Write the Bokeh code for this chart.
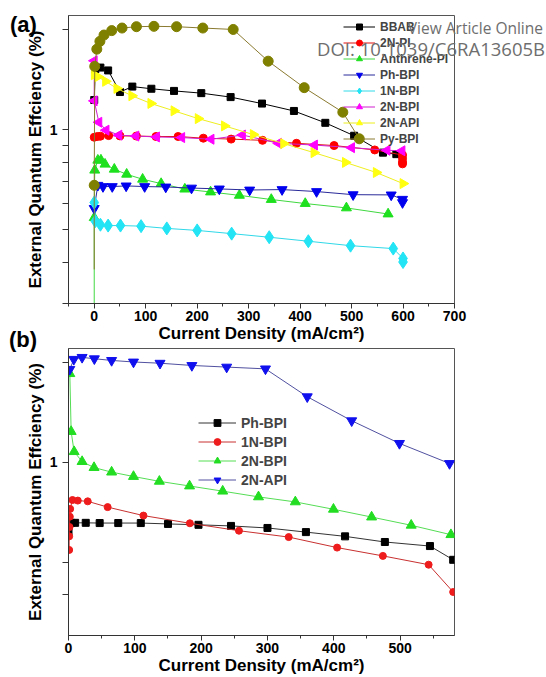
from math import pi
from bokeh.plotting import figure
from bokeh.layouts import column
from bokeh.models import (FixedTicker, SingleIntervalTicker, BasicTickFormatter,
                          Range1d, Div)
from bokeh.embed import file_html
from bokeh.resources import INLINE

FONT = "Liberation Sans"
YTITLE = "External Quantum Effciency (%)"
XTITLE = "Current Density (mA/cm\u00b2)"
PANEL_A = "(a)"
PANEL_B = "(b)"
WATERMARK_1 = "View Article Online"
WATERMARK_2 = "DOI: 10.1039/C6RA13605B"

# ---------------- panel (a) data ----------------
a_bbab_x = [0, 2, 12, 27, 50, 74, 111, 155, 208, 265, 326, 388, 449, 505, 561, 587]
a_bbab_y = [1.23, 1.52, 1.54, 1.51, 1.30, 1.35, 1.33, 1.31, 1.29, 1.255, 1.20, 1.14, 1.05, 0.96, 0.854, 0.845]

a_2npi_x = [0, 6, 12, 28, 50, 82, 120, 163, 212, 266, 327, 393, 466, 545, 599, 599, 599, 599]
a_2npi_y = [0.95, 0.955, 0.957, 0.961, 0.959, 0.958, 0.955, 0.955, 0.944, 0.938, 0.93, 0.911, 0.897, 0.87, 0.84, 0.82, 0.80, 0.79]

a_anth_x = [0, 0, 1, 7, 13, 21, 39, 63, 94, 130, 176, 226, 282, 344, 410, 490, 571]
a_anth_y = [0.28, 0.544, 0.756, 0.81, 0.811, 0.788, 0.761, 0.735, 0.71, 0.689, 0.663, 0.65, 0.635, 0.617, 0.60, 0.582, 0.558]

a_phbpi_x = [0, 7, 17, 35, 62, 98, 139, 189, 243, 302, 365, 432, 503, 577, 599, 599]
a_phbpi_y = [0.58, 0.681, 0.675, 0.675, 0.678, 0.675, 0.673, 0.668, 0.664, 0.659, 0.661, 0.652, 0.638, 0.637, 0.618, 0.604]

a_1nbpi_x = [0, 2, 12, 27, 51, 91, 141, 200, 267, 340, 416, 498, 581, 600, 600]
a_1nbpi_y = [0.604, 0.531, 0.518, 0.515, 0.515, 0.513, 0.505, 0.498, 0.487, 0.475, 0.462, 0.448, 0.439, 0.41, 0.40]

a_2nbpi_x = [0, 0, 9, 23, 48, 81, 121, 170, 227, 288, 358, 428, 500, 569, 598]
a_2nbpi_y = [1.615, 1.223, 1.054, 0.998, 0.964, 0.958, 0.952, 0.948, 0.937, 0.965, 0.911, 0.90, 0.884, 0.868, 0.865]

a_2napi_x = [0, 7, 22, 44, 73, 110, 155, 202, 253, 309, 368, 427, 488, 548, 600]
a_2napi_y = [1.466, 1.446, 1.40, 1.333, 1.267, 1.201, 1.141, 1.081, 1.028, 0.968, 0.909, 0.854, 0.798, 0.744, 0.689]

# first value is the bottom of the vertical trace (drawn as line only)
a_pybpi_x = [0, 0, 1, 5, 11, 19, 34, 54, 82, 116, 160, 211, 270, 338, 408, 483, 515]
a_pybpi_y = [0.38, 0.681, 1.553, 1.75, 1.847, 1.93, 1.99, 2.026, 2.045, 2.05, 2.045, 2.026, 2.006, 1.61, 1.34, 1.13, 0.94]

# ---------------- panel (b) data ----------------
b_phbpi_x = [0, 1, 4, 10, 26, 47, 75, 109, 150, 196, 245, 300, 358, 417, 477, 545, 580]
b_phbpi_y = [0.616, 0.653, 0.657, 0.657, 0.657, 0.656, 0.656, 0.656, 0.652, 0.648, 0.643, 0.634, 0.616, 0.598, 0.575, 0.559, 0.508]

b_1nbpi_x = [1, 1, 1.5, 2, 2.5, 6, 14, 29, 59, 113, 183, 257, 332, 405, 474, 543, 580]
b_1nbpi_y = [0.544, 0.598, 0.638, 0.686, 0.724, 0.77, 0.767, 0.763, 0.733, 0.691, 0.655, 0.622, 0.595, 0.553, 0.522, 0.491, 0.406]

b_2nbpi_x = [2, 4, 8.5, 20.5, 38.5, 65, 98, 137, 182.5, 232.5, 286.5, 342, 399.5, 457, 516.7, 576.6]
b_2nbpi_y = [1.855, 1.24, 1.078, 1.006, 0.965, 0.935, 0.907, 0.877, 0.849, 0.819, 0.787, 0.760, 0.722, 0.684, 0.646, 0.605]

b_2napi_x = [2, 8, 20.5, 39, 65, 98, 138, 186, 238.5, 297, 360, 427, 499, 574.5]
b_2napi_y = [1.912, 2.05, 2.078, 2.058, 2.034, 2.012, 1.995, 1.964, 1.942, 1.918, 1.58, 1.337, 1.142, 0.993]

# name, x, y, marker, angle, size, marker colour, line colour, first marker index
a_series = [
    ("BBAB", a_bbab_x, a_bbab_y, "square", 0, 7, "black", "black", 0),
    ("2N-PI", a_2npi_x, a_2npi_y, "circle", 0, 8, "#ff0000", "#e01010", 0),
    ("Anthrene-PI", a_anth_x, a_anth_y, "triangle", 0, 10, "#1ee01e", "#40d840", 0),
    ("Ph-BPI", a_phbpi_x, a_phbpi_y, "inverted_triangle", 0, 10, "#0000ee", "#2a2a9a", 0),
    ("1N-BPI", a_1nbpi_x, a_1nbpi_y, "diamond", 0, 13, "#22e4f4", "#30d8e8", 0),
    ("2N-BPI", a_2nbpi_x, a_2nbpi_y, "triangle", pi / 2, 10, "#ff00ff", "#d020d0", 0),
    ("2N-API", a_2napi_x, a_2napi_y, "triangle", -pi / 2, 10, "#ffff10", "#eeee20", 0),
    ("Py-BPI", a_pybpi_x, a_pybpi_y, "circle", 0, 10, "#7f7f00", "#8a7a30", 1),
]

b_series = [
    ("Ph-BPI", b_phbpi_x, b_phbpi_y, "square", 0, 7, "black", "#333333", 0),
    ("1N-BPI", b_1nbpi_x, b_1nbpi_y, "circle", 0, 7, "#ee1c1c", "#c83030", 0),
    ("2N-BPI", b_2nbpi_x, b_2nbpi_y, "triangle", 0, 10, "#22dd22", "#55dd55", 0),
    ("2N-API", b_2napi_x, b_2napi_y, "inverted_triangle", 0, 10, "#1010ee", "#5050a0", 0),
]


def make_fig(height, xr, bl, br, bt, bb, minor_y):
    p = figure(width=546, height=height, x_range=Range1d(*xr), y_range=Range1d(0.3, 2.21),
               y_axis_type="log", output_backend="svg", toolbar_location=None,
               min_border_left=bl, min_border_right=br, min_border_top=bt, min_border_bottom=bb)
    p.grid.visible = False
    p.outline_line_color = "#555555"
    p.outline_line_width = 1
    p.background_fill_color = "white"
    p.border_fill_color = "white"

    xa = p.xaxis[0]
    xa.ticker = SingleIntervalTicker(interval=100, num_minor_ticks=2)
    xa.major_tick_out = 5
    xa.major_tick_in = 0
    xa.minor_tick_out = 3
    xa.minor_tick_in = 0
    xa.major_label_standoff = 2
    xa.axis_label = XTITLE
    xa.axis_label_standoff = 0

    ya = p.yaxis[0]
    ya.ticker = FixedTicker(ticks=[1], minor_ticks=minor_y)
    ya.formatter = BasicTickFormatter()
    ya.major_tick_out = 6
    ya.major_tick_in = 0
    ya.minor_tick_out = 6
    ya.minor_tick_in = 0
    ya.major_label_standoff = 5
    ya.axis_label = YTITLE
    ya.axis_label_standoff = 2

    for ax in (xa, ya):
        ax.axis_line_color = "#333333"
        ax.major_tick_line_color = "#333333"
        ax.minor_tick_line_color = "#333333"
        ax.major_label_text_font = FONT
        ax.major_label_text_font_style = "bold"
        ax.major_label_text_font_size = "14px"
        ax.major_label_text_color = "black"
        ax.axis_label_text_font = FONT
        ax.axis_label_text_font_style = "bold"
        ax.axis_label_text_color = "black"
    xa.axis_label_text_font_size = "17px"
    ya.axis_label_text_font_size = "17px"
    return p


def add_series(p, series):
    for name, xs, ys, mk, ang, sz, col, lcol, first in series:
        p.line(xs, ys, line_color=lcol, line_width=1, legend_label=name)
        p.scatter(xs[first:], ys[first:], marker=mk, angle=ang, size=sz, fill_color=col,
                  line_color=col, legend_label=name)


def style_legend(lg, loc, spacing, gw, gh, fsize):
    lg.location = loc
    lg.padding = 0
    lg.margin = 0
    lg.spacing = spacing
    lg.glyph_width = gw
    lg.glyph_height = gh
    lg.label_height = gh
    lg.label_standoff = 5
    lg.label_text_font = FONT
    lg.label_text_font_style = "bold"
    lg.label_text_font_size = fsize
    lg.background_fill_alpha = 0
    lg.border_line_alpha = 0


# ---------------- panel (a) ----------------
pa = make_fig(345, (-50, 700), 68, 90, 15, 42, [0.3, 0.4, 0.5, 0.6, 0.7, 0.8, 0.9, 2])
add_series(pa, a_series)
style_legend(pa.legend[0], (275, 157), 1, 32, 15, "12px")

# ---------------- panel (b) ----------------
pb = make_fig(332, (0, 582), 65, 92, 3, 42, [0.4, 0.5, 2])
add_series(pb, b_series)
style_legend(pb.legend[0], (130, 147), 2, 38, 17, "14px")

# ---------------- free texts: panel letters and page watermark ----------------
span = '<span style="position:absolute;white-space:nowrap;line-height:1;{}">{}</span>'
overlay_html = "".join([
    span.format("left:10px;top:14px;font-family:'Liberation Sans';font-weight:bold;font-size:22px;color:#000;", PANEL_A),
    span.format("left:9px;top:329px;font-family:'Liberation Sans';font-weight:bold;font-size:22px;color:#000;", PANEL_B),
    span.format("right:3px;top:21px;font-family:'Open Sans';font-size:15.5px;color:#6e6e6e;", WATERMARK_1),
    span.format("right:1px;top:40px;font-family:'Open Sans';font-size:18.5px;color:#6e6e6e;", WATERMARK_2),
])
overlay = Div(text=overlay_html, width=546, height=677, margin=0,
              styles={"position": "absolute", "left": "0px", "top": "0px", "pointer-events": "none"},
              stylesheets=[":host { position: absolute !important; left: 0px !important; "
                           "top: 0px !important; pointer-events: none; }"])

layout = column(pa, pb, overlay, spacing=0)
open("out.html", "w").write(file_html(layout, INLINE))
